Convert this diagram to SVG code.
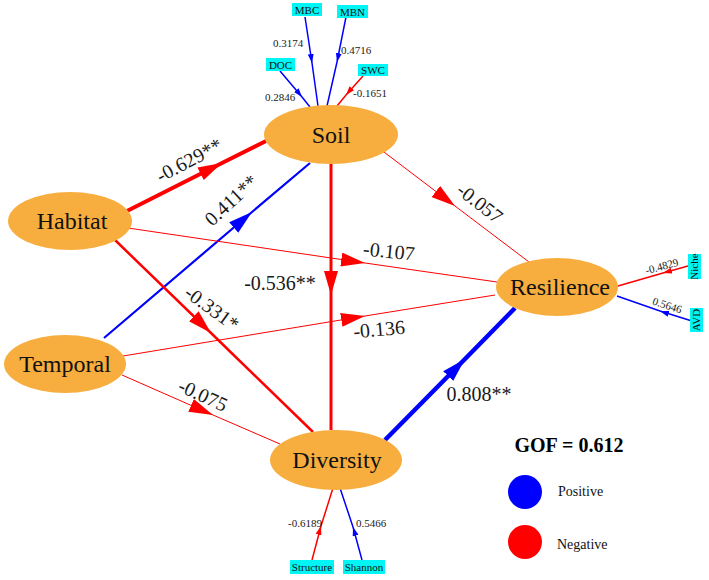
<svg xmlns="http://www.w3.org/2000/svg" width="709" height="580" viewBox="0 0 709 580">
<style>
.node{fill:#F7AE3E}
.nl{font-family:"Liberation Serif","Times New Roman",serif;font-size:24px;fill:#111;text-anchor:middle}
.el{font-family:"Liberation Serif","Times New Roman",serif;font-size:20px;fill:#1a1a1a;text-anchor:middle}
.sl{font-family:"Liberation Serif","Times New Roman",serif;font-size:11px;fill:#1a1a1a}
.bx{fill:#00F5F5}
.bt{font-family:"Liberation Serif","Times New Roman",serif;font-size:11px;fill:#111;text-anchor:middle}
.r{stroke:#FF0000;fill:none}
.b{stroke:#0000FF;fill:none}
.ra{marker-mid:url(#ar)}
.ba{marker-mid:url(#ab)}
.rs{marker-mid:url(#sr)}
.bs{marker-mid:url(#sb)}
</style>
<defs>
<marker id="ar" markerUnits="userSpaceOnUse" viewBox="0 0 24 14" markerWidth="24" markerHeight="14" refX="24" refY="7" orient="auto"><path d="M0,0 L24,7 L0,14 z" fill="#FF0000"/></marker>
<marker id="ab" markerUnits="userSpaceOnUse" viewBox="0 0 24 14" markerWidth="24" markerHeight="14" refX="24" refY="7" orient="auto"><path d="M0,0 L24,7 L0,14 z" fill="#0000FF"/></marker>
<marker id="sr" markerUnits="userSpaceOnUse" viewBox="0 0 9 6" markerWidth="9" markerHeight="6" refX="9" refY="3" orient="auto"><path d="M0,0 L9,3 L0,6 z" fill="#FF0000"/></marker>
<marker id="sb" markerUnits="userSpaceOnUse" viewBox="0 0 9 6" markerWidth="9" markerHeight="6" refX="9" refY="3" orient="auto"><path d="M0,0 L9,3 L0,6 z" fill="#0000FF"/></marker>
</defs>
<rect width="709" height="580" fill="#FFFFFF"/>

<g id="connectors">
<path class="r ra" stroke-width="4" d="M127,211 L222,163 L266,141"/>
<path class="b ba" stroke-width="2.2" d="M104,338 L252,212 L310,163"/>
<path class="r ra" stroke-width="2.5" d="M115,240 L211,333 L313,432"/>
<path class="r ra" stroke-width="1" d="M128,228 L365,263 L497,282"/>
<path class="r ra" stroke-width="1" d="M123,356 L365,316 L495,295"/>
<path class="r ra" stroke-width="1" d="M122,375 L213,415 L280,444"/>
<path class="r ra" stroke-width="3" d="M331,164 L331,295 L331,430"/>
<path class="r ra" stroke-width="1" d="M380,149 L455,206 L529,262"/>
<path class="b ba" stroke-width="4.5" d="M385,440 L465,359 L515,308"/>
<path class="b bs" stroke-width="1.5" d="M305,17 L312,63 L318,106"/>
<path class="b bs" stroke-width="1.5" d="M346,17 L337,62 L327,106"/>
<path class="b bs" stroke-width="1.5" d="M280,71 L302,97 L310,107"/>
<path class="r rs" stroke-width="1.5" d="M363,76 L346,95 L337,106"/>
<path class="r rs" stroke-width="1.5" d="M688,266 L663,273 L618,286"/>
<path class="b bs" stroke-width="1.5" d="M692,321 L660,311 L617,296"/>
<path class="r rs" stroke-width="1.5" d="M312,560 L321,526 L333,488"/>
<path class="b bs" stroke-width="1.5" d="M362,560 L353,527 L340,488"/>
</g>

<g id="edge-labels">
<text class="el" transform="translate(189,160) rotate(-28)" y="7">-0.629**</text>
<text class="el" transform="translate(231,200) rotate(-43)" y="7">0.411**</text>
<text class="el" transform="translate(212,308) rotate(36)" y="7">-0.331*</text>
<text class="el" transform="translate(389,251) rotate(6)" y="7">-0.107</text>
<text class="el" transform="translate(379,329) rotate(-5)" y="7">-0.136</text>
<text class="el" transform="translate(203,395) rotate(25)" y="7">-0.075</text>
<text class="el" x="280" y="290">-0.536**</text>
<text class="el" transform="translate(480,203) rotate(38)" y="7">-0.057</text>
<text class="el" x="479" y="401">0.808**</text>
<text class="sl" x="273" y="47">0.3174</text>
<text class="sl" x="341" y="54">0.4716</text>
<text class="sl" x="265" y="101">0.2846</text>
<text class="sl" x="353" y="97">-0.1651</text>
<text class="sl" x="288" y="527" font-size="10">-0.6189</text>
<text class="sl" x="356" y="527" font-size="10">0.5466</text>
<text class="sl" transform="translate(662,267) rotate(-15)" y="3" font-size="9.5" text-anchor="middle">-0.4829</text>
<text class="sl" transform="translate(667,306) rotate(18)" y="3" font-size="9.5" text-anchor="middle">0.5646</text>
</g>

<g id="Soil"><ellipse class="node" cx="331" cy="134.5" rx="67" ry="29.5"/><text class="nl" x="331" y="143">Soil</text></g>
<g id="Habitat"><ellipse class="node" cx="70" cy="221" rx="62" ry="29"/><text class="nl" x="72" y="229">Habitat</text></g>
<g id="Temporal"><ellipse class="node" cx="65" cy="364" rx="61" ry="29"/><text class="nl" x="65" y="372">Temporal</text></g>
<g id="Diversity"><ellipse class="node" cx="336" cy="460" rx="66" ry="30"/><text class="nl" x="337" y="468">Diversity</text></g>
<g id="Resilience"><ellipse class="node" cx="557" cy="287" rx="61" ry="29"/><text class="nl" x="560" y="295">Resilience</text></g>

<g id="MBC"><rect class="bx" x="292" y="3" width="30" height="13"/><text class="bt" x="307" y="13.5">MBC</text></g>
<g id="MBN"><rect class="bx" x="337" y="5" width="31" height="13"/><text class="bt" x="352.5" y="15.5">MBN</text></g>
<g id="DOC"><rect class="bx" x="266" y="58" width="29" height="13"/><text class="bt" x="280.5" y="68.5">DOC</text></g>
<g id="SWC"><rect class="bx" x="358" y="64" width="30" height="12"/><text class="bt" x="373" y="74">SWC</text></g>
<g id="Niche"><rect class="bx" x="688" y="254" width="13" height="25"/><text class="bt" font-size="9" transform="translate(694.5,266.5) rotate(-90)" y="3">Niche</text></g>
<g id="AVD"><rect class="bx" x="690" y="308" width="13" height="24"/><text class="bt" font-size="10" transform="translate(696.5,320) rotate(-90)" y="3.5">AVD</text></g>
<g id="Structure"><rect class="bx" x="290" y="560" width="44" height="14"/><text class="bt" font-size="10" x="312" y="571">Structure</text></g>
<g id="Shannon"><rect class="bx" x="343" y="560" width="42" height="14"/><text class="bt" font-size="10" x="364" y="571">Shannon</text></g>

<g id="legend">
<text x="569" y="452" text-anchor="middle" font-family="Liberation Serif, Times New Roman, serif" font-size="20" font-weight="bold" fill="#000">GOF = 0.612</text>
<circle cx="525" cy="492" r="17" fill="#0000FF"/>
<text x="558" y="496" font-family="Liberation Serif, Times New Roman, serif" font-size="14" fill="#111">Positive</text>
<circle cx="525" cy="542" r="17" fill="#FF0000"/>
<text x="557" y="549" font-family="Liberation Serif, Times New Roman, serif" font-size="14" fill="#111">Negative</text>
</g>
</svg>
